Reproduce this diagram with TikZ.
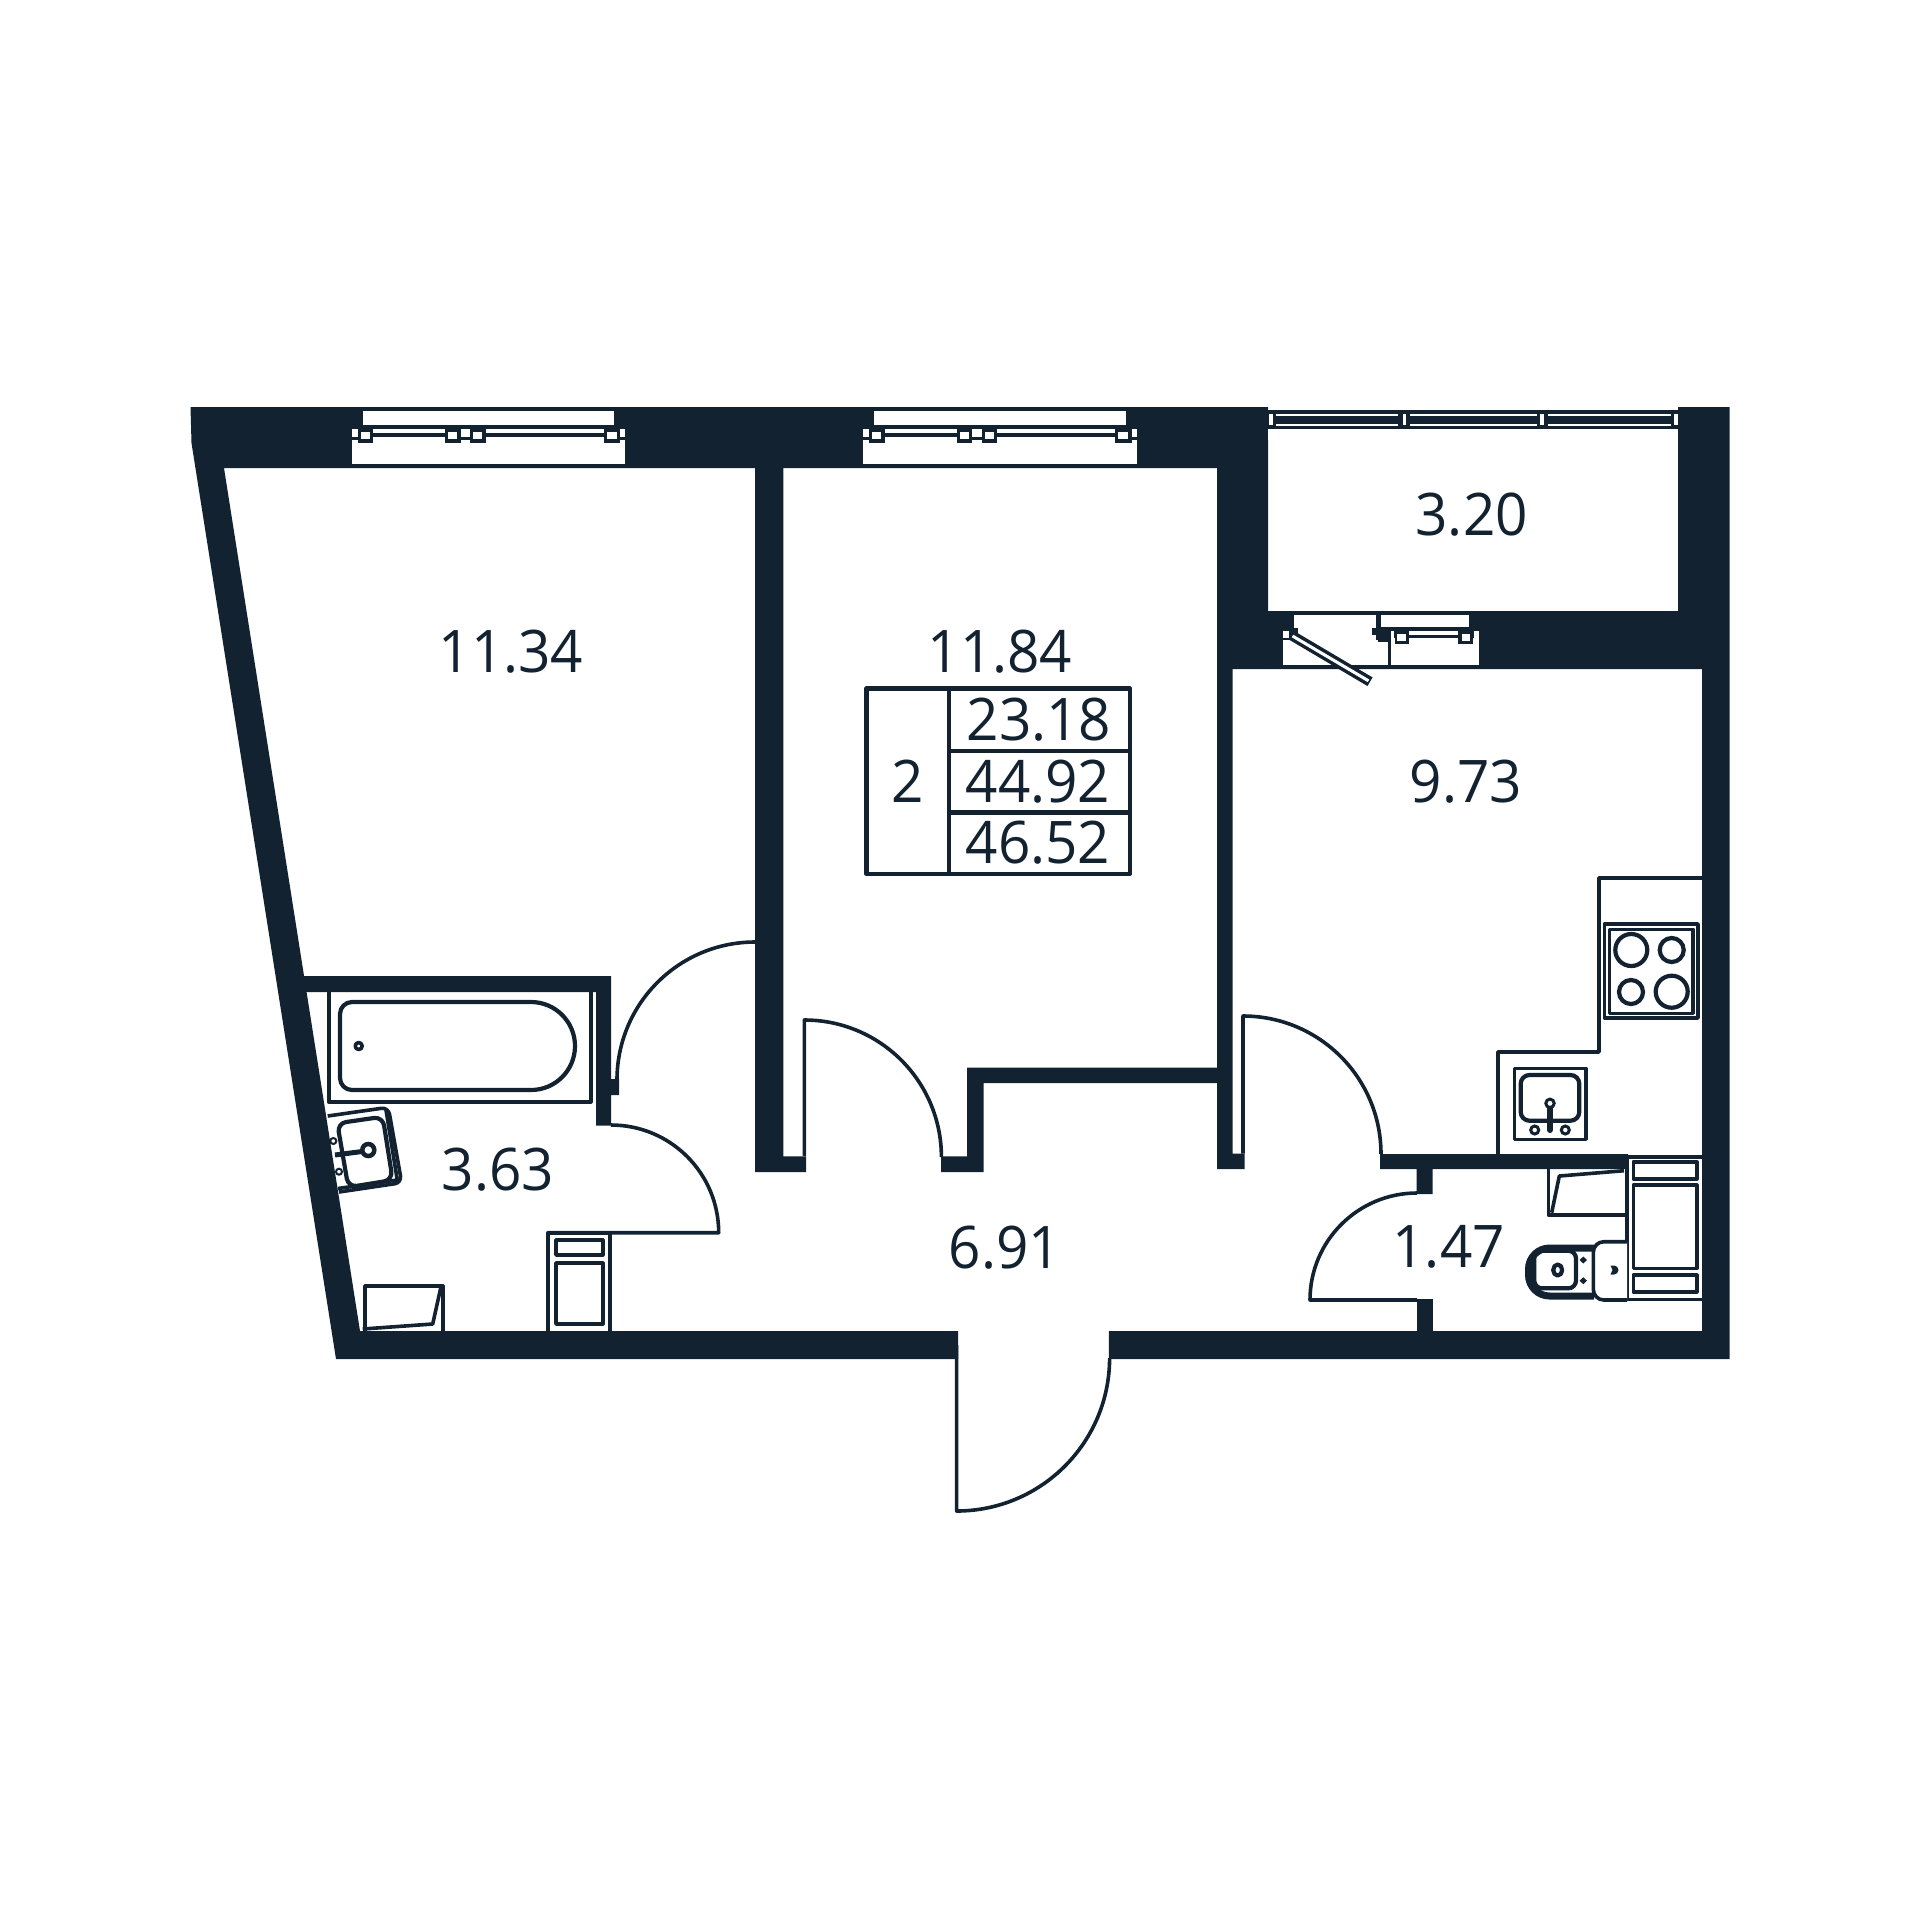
\documentclass[tikz,border=0pt]{standalone}
\usepackage{fontspec}
\setmainfont{Open Sans}
\definecolor{wallc}{HTML}{132230}
\tikzset{
  wallfill/.style={fill=wallc},
  hole/.style={fill=white},
  fixture/.style={draw=wallc,line width=.036cm,line join=round},
  heavy/.style={draw=wallc,line width=.042cm,line join=round},
  area/.style={font=\fontsize{16.7}{18}\selectfont,text=wallc,anchor=base,inner sep=0pt,xscale=.965}
}
\begin{document}
\begin{tikzpicture}[x=.01cm,y=-.01cm]
\path[use as bounding box,fill=white] (0,0) rectangle (1920,1920);
% walls
\fill[wallfill] (190.5,407)--(1268,407)--(1268,669)--(1217,669)--(1217,468)--(224,468)--(360,1331)--(958,1331)--(958,1359)--(336,1359)--(191.5,443)--cycle;
\fill[wallfill] (1678,407)--(1729.6,407)--(1729.6,1359)--(1108.8,1359)--(1108.8,1331)--(1702,1331)--(1702,669)--(1268,669)--(1268,611)--(1678,611)--cycle;
\fill[wallfill] (755,468)--(783.4,468)--(783.4,1156.4)--(806,1156.4)--(806,1172)--(755,1172)--cycle;
\fill[wallfill] (941,1156.4)--(967,1156.4)--(967,1067.5)--(1217,1067.5)--(1217,1083)--(983.5,1083)--(983.5,1172)--(941,1172)--cycle;
\fill[wallfill] (1217,669)--(1232.6,669)--(1232.6,1153.6)--(1244.5,1153.6)--(1244.5,1169)--(1217,1169)--cycle;
\fill[wallfill] (296,976)--(611,976)--(611,1079)--(619,1079)--(619,1095)--(611,1095)--(611,1125.7)--(596,1125.7)--(596,992)--(296,992)--cycle;
\fill[wallfill] (1380,1154)--(1628,1154)--(1628,1169)--(1432.7,1169)--(1432.7,1194)--(1416.7,1194)--(1416.7,1169)--(1380,1169)--cycle;
\fill[wallfill] (1416.7,1299)--(1432.7,1299)--(1432.7,1331)--(1416.7,1331)--cycle;
% windows
\foreach \d in {0,511.6}{
  \begin{scope}[shift={(\d,0)}]
  \fill[hole] (362.7,411) rectangle (614.4,425);
  \fill[hole] (351.8,437.3) rectangle (625,463.5);
  \fill[hole] (373,429.3) rectangle (445,433.3);
  \fill[hole] (485.7,429.3) rectangle (603.7,433.3);
  \foreach \a/\b in {351.8/357.7,460.7/470,620/625}{
    \fill[hole] (\a,429.3) rectangle (\b,436.7);
    \fill[wallfill] (\a,436.7) rectangle (\b,440);
  }
  \foreach \a/\b in {357.7/373.3,445/460.7,470/485.7,603.7/620}{
    \fill[wallfill] (\a,430) rectangle (\b,442.7);
    \fill[hole] (\a+3,432.3) rectangle (\b-3.5,439.3);
  }
  \end{scope}
}
% balcony glazing
\fill[wallfill] (1268,410) rectangle (1678,429);
\fill[hole] (1268,429) rectangle (1678,440);
\foreach \a/\b in {1276/1398,1410/1536.7,1548/1670.7}{
  \fill[hole] (\a,414) rectangle (\b,415.7);
  \fill[hole] (\a,424) rectangle (\b,426);
}
\foreach \a in {1270.7,1404.3,1542,1676}{
  \fill[hole] (\a-1.8,414) rectangle (\a+1.8,425);
}
% balcony door
\fill[hole] (1294,615) rectangle (1376,640);
\fill[hole] (1283,640) rectangle (1388,665);
\fill[hole] (1283.3,631) rectangle (1289,637.7);
\fill[hole] (1298,627) rectangle (1372,640);
\fill[hole] (1380.7,615) rectangle (1469,626.7);
\fill[hole] (1390.7,638.3) rectangle (1479.3,665);
\fill[hole] (1408,631) rectangle (1458,635);
\fill[hole] (1390.7,631) rectangle (1394,638);
\fill[hole] (1474,631) rectangle (1479.3,637.7);
\fill[wallfill] (1395,630) rectangle (1409,644.3);
\fill[hole] (1397.3,634) rectangle (1406,640.7);
\fill[wallfill] (1458,630) rectangle (1473.3,644.3);
\fill[hole] (1461.7,634) rectangle (1470,640.7);
\fill[wallfill] (1289,627.7) rectangle (1298,638);
\fill[wallfill] (1371.7,627.7) rectangle (1388.3,635);
\fill[wallfill] (1378,635) rectangle (1388.3,642);
\draw[fixture] (1377.3,611)--(1377.3,628);
\draw[fixture] (1389.3,630)--(1389.3,668);
\draw[wallc,line width=.1cm] (1291,635)--(1370,681.7);
\draw[white,line width=.03cm] (1292.5,636)--(1368.5,680.8);
% doors
\draw[fixture] (617,1080) arc[start angle=180,end angle=270,radius=138];
\draw[fixture] (804.4,1156)--(804.4,1020) arc[start angle=-90,end angle=0,radius=137];
\draw[fixture] (1243,1153.6)--(1243,1016) arc[start angle=-90,end angle=0,radius=138];
\draw[fixture] (611,1125) arc[start angle=-90,end angle=0,radius=107.7]--(547.7,1232.7);
\draw[fixture] (1417,1193) arc[start angle=-90,end angle=-180,radius=107]--(1417,1300);
\draw[fixture] (956.6,1345)--(956.6,1511) arc[start angle=90,end angle=0,radius=153];
% legend
\draw[heavy] (866.5,688.5) rectangle (1129.8,874);
\draw[heavy] (949,688.5)--(949,874);
\draw[heavy] (949,751)--(1129.8,751);
\draw[heavy] (949,812.5)--(1129.8,812.5);
% bath
\draw[fixture] (328.7,992)--(328.7,1102)--(590.7,1102)--(590.7,992);
\draw[heavy] (352,1002)--(531,1002) arc[start angle=-90,end angle=90,radius=44]--(352,1090) arc[start angle=90,end angle=180,radius=12]--(340,1014) arc[start angle=180,end angle=270,radius=12]--cycle;
\draw[fixture] (358.7,1046) circle[radius=3.5];
% bathroom sink
\draw[fixture,rounded corners=2pt] (327.7,1116)--(388.3,1107.3)--(401.7,1182.7)--(339,1192);
\draw[fixture] (386,1110)--(397.3,1180)--(338,1188.5);
\draw[heavy,rounded corners=2.5pt] (337.3,1123.3)--(382.7,1116.7)--(392.7,1180)--(348.3,1187.3)--cycle;
\draw[wallc,line width=.05cm] (335,1155)--(362,1151.5);
\draw[wallc,line width=.045cm,fill=white] (368.3,1150) circle[radius=6];
\draw[wallc,line width=.02cm,fill=white] (333.3,1141) circle[radius=3];
\draw[wallc,line width=.02cm,fill=white] (339,1171.7) circle[radius=3];
% corner sink bathroom
\draw[fixture] (365,1331)--(365,1286)--(442.7,1286)--(442.7,1331);
\draw[fixture] (362.7,1329)--(432.7,1324)--(440.7,1288);
% washer bathroom
\draw[fixture] (547.7,1331)--(547.7,1232.7)--(610,1232.7)--(610,1331);
\draw[fixture] (556,1240) rectangle (602.7,1255);
\draw[fixture] (556,1263) rectangle (602.7,1324);
% kitchen counter
\draw[fixture] (1702,878)--(1599,878)--(1599,1052)--(1498,1052)--(1498,1154);
\draw[fixture] (1604.3,924) rectangle (1698,1018);
\draw[fixture] (1609.3,929.3) rectangle (1692.7,1013.3);
\foreach \cx/\cy/\r in {1631.3/950/16,1671.7/950/12,1631/992/12,1671.7/991.7/16}{
  \draw[heavy] (\cx,\cy) circle[radius=\r];
}
\draw[fixture] (1514.3,1068.3) rectangle (1585.7,1139.3);
\draw[heavy,rounded corners=2.5pt] (1520.7,1075) rectangle (1579.3,1120.7);
\draw[wallc,line width=.06cm,line cap=round] (1550,1109)--(1550,1130);
\draw[wallc,line width=.03cm,fill=white] (1550,1103.3) circle[radius=4.2];
\draw[wallc,line width=.03cm,fill=white] (1534.7,1130) circle[radius=4];
\draw[wallc,line width=.03cm,fill=white] (1565.3,1130) circle[radius=4];
% washer wc
\draw[fixture] (1702,1157)--(1627,1157)--(1627,1299.5)--(1702,1299.5);
\draw[fixture] (1633.3,1161.7) rectangle (1696.7,1179);
\draw[fixture] (1633.3,1185) rectangle (1696.7,1268.3);
\draw[fixture] (1633.3,1275) rectangle (1696.7,1291.7);
% corner sink wc
\draw[fixture] (1548.3,1169)--(1548.3,1214.7)--(1625,1214.7);
\draw[fixture] (1624,1170.7)--(1559.3,1176)--(1551.7,1212.7);
% wc
\draw[wallc,line width=.07cm,rounded corners=6pt] (1594,1248)--(1528.5,1248)--(1528.5,1296)--(1594,1296);
\draw[fixture,fill=white,rounded corners=3pt] (1627,1241.7)--(1593.3,1241.7)--(1593.3,1300)--(1627,1300);
\draw[heavy,rounded corners=2.2pt] (1534.3,1250.7) rectangle (1576,1288.3);
\draw[heavy] (1557.7,1270) ellipse[x radius=4.5,y radius=5.5];
\fill[wallfill] (1583.3,1256.5)--(1587,1260)--(1583.3,1263.5)--(1579.6,1260)--cycle;
\fill[wallfill] (1583.3,1277.2)--(1587,1280.7)--(1583.3,1284.2)--(1579.6,1280.7)--cycle;
\fill[wallfill] (1610.5,1265.5)--(1614,1265.5) arc[start angle=-90,end angle=90,radius=4.5]--(1610.5,1274.5)--(1612.5,1270)--cycle;
% areas
\node[area] (livinga)at(511,672.5){11.34};
\node[area] (livingb)at(1000,672.5){11.84};
\node[area] (balcony)at(1471.7,535.3){3.20};
\node[area] (kitchen)at(1466,802){9.73};
\node[area] (bath)at(498,1190){3.63};
\node[area] (hall)at(1005,1268){6.91};
\node[area] (wc)at(1448.7,1267){1.47};
\node[area] (rooms)at(907.5,802){2};
\node[area] (livesum)at(1039,740.5){23.18};
\node[area] (totala)at(1038,802){44.92};
\node[area] (totalb)at(1038,863.8){46.52};
\end{tikzpicture}
\end{document}
